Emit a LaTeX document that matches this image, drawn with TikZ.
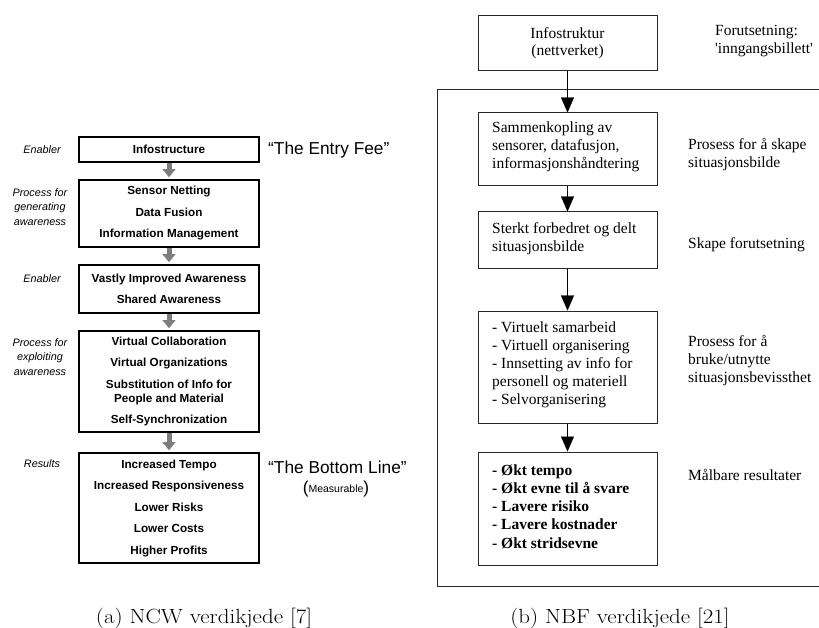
\documentclass[tikz,border=0pt]{standalone}
\usepackage{fontspec}
\usetikzlibrary{arrows.meta}
\newfontfamily\arialf{Liberation Sans}
\newfontfamily\timesf{Liberation Serif}
\newfontfamily\capf[FakeStretch=1.12]{Latin Modern Roman}
\definecolor{arrowgray}{RGB}{125,125,125}
\definecolor{framegray}{RGB}{40,40,40}
\begin{document}
\begin{tikzpicture}[x=1pt,y=-1pt,
  ncwbox/.style={draw=black, line width=1.8pt, minimum width=180pt, inner sep=0pt,
    align=center, font=\arialf\bfseries\fontsize{11.7}{14}\selectfont},
  ncwnote/.style={align=center, inner sep=0pt, font=\arialf\itshape\fontsize{10.8}{14.5}\selectfont},
  ncwquote/.style={anchor=west, inner sep=0pt, font=\arialf\fontsize{17.3}{20}\selectfont},
  grayarrow/.style={arrowgray, line width=5pt, shorten >=2pt,
    -{Triangle[width=13pt,length=8pt,line width=0.1pt]}},
  nbfbox/.style={draw=framegray, line width=1pt, minimum width=179pt, inner sep=0pt,
    align=center, font=\timesf\fontsize{15.5}{17}\selectfont},
  nbftext/.style={anchor=west, inner sep=0pt, align=left, font=\timesf\fontsize{15.5}{18}\selectfont},
  blackarrow/.style={black, line width=1pt, -{Triangle[width=13pt,length=15pt,line width=0.1pt]}},
  captext/.style={anchor=base, inner sep=0pt, font=\capf\fontsize{20.5}{24}\selectfont}
]
\useasboundingbox (0,0) rectangle (819,628);

% ---------- (a) NCW value chain ----------
\node[ncwbox, minimum height=25pt]  (ncw1) at (169,149.5) {Infostructure};
\node[ncwbox, minimum height=67pt]  (ncw2) at (169,213.5)
  {Sensor Netting\\[7.5pt]Data Fusion\\[7.5pt]Information Management};
\node[ncwbox, minimum height=48pt]  (ncw3) at (169,289)
  {Vastly Improved Awareness\\[7.5pt]Shared Awareness};
\node[ncwbox, minimum height=101pt] (ncw4) at (169,381.5)
  {Virtual Collaboration\\[7.5pt]Virtual Organizations\\[7.5pt]Substitution of Info for\\People and Material\\[7.5pt]Self-Synchronization};
\node[ncwbox, minimum height=110pt] (ncw5) at (169,508)
  {Increased Tempo\\[7.5pt]Increased Responsiveness\\[7.5pt]Lower Risks\\[7.5pt]Lower Costs\\[7.5pt]Higher Profits};

\draw[grayarrow] (ncw1.south) -- (ncw2.north);
\draw[grayarrow] (ncw2.south) -- (ncw3.north);
\draw[grayarrow] (ncw3.south) -- (ncw4.north);
\draw[grayarrow] (ncw4.south) -- (ncw5.north);

\node[ncwnote] (note1) at (42,150) {Enabler};
\node[ncwnote] (note2) at (40,207) {Process for\\generating\\awareness};
\node[ncwnote] (note3) at (42,279) {Enabler};
\node[ncwnote] (note4) at (40,357) {Process for\\exploiting\\awareness};
\node[ncwnote] (note5) at (42,464) {Results};

\node[ncwquote] (fee) at (268,150) {“The Entry Fee”};
\node[ncwquote] (bottom) at (268,467) {“The Bottom Line”};
\node[inner sep=0pt, font=\arialf\fontsize{17.3}{20}\selectfont] (meas) at (336,489)
  {(\raisebox{0.5pt}{\fontsize{10.5}{12}\selectfont Measurable})};

\node[captext] (capa) at (204,623) {(a) NCW verdikjede [7]};

% ---------- (b) NBF value chain ----------
\draw[framegray, line width=1pt] (822,90) -- (437,90) -- (437,586) -- (822,586);

\node[nbfbox, minimum height=55pt]  (nbf1) at (567.5,43.5) {Infostruktur\\(nettverket)};
\node[nbfbox, minimum height=73pt]  (nbf2) at (567.5,149.5) {};
\node[nbfbox, minimum height=57pt]  (nbf3) at (567.5,240.5) {};
\node[nbfbox, minimum height=112pt] (nbf4) at (567.5,367) {};
\node[nbfbox, minimum height=113pt] (nbf5) at (567.5,508.5) {};

\node[nbftext] (t2) at (492,146.5) {Sammenkopling av\\sensorer, datafusjon,\\informasjonshåndtering};
\node[nbftext] (t3) at (492,238.5) {Sterkt forbedret og delt\\situasjonsbilde};
\node[nbftext] (t4) at (492,364.5) {- Virtuelt samarbeid\\- Virtuell organisering\\- Innsetting av info for\\personell og materiell\\- Selvorganisering};
\node[nbftext, font=\timesf\bfseries\fontsize{15.5}{18.2}\selectfont] (t5) at (492,506.5)
  {- Økt tempo\\- Økt evne til å svare\\- Lavere risiko\\- Lavere kostnader\\- Økt stridsevne};

\draw[blackarrow] (nbf1.south) -- (nbf2.north);
\draw[blackarrow] (nbf2.south) -- (nbf3.north);
\draw[blackarrow] (nbf3.south) -- (nbf4.north);
\draw[blackarrow] (nbf4.south) -- (nbf5.north);

\node[nbftext] (s1) at (715,41.5) {Forutsetning:\\'inngangsbillett'};
\node[nbftext] (s2) at (688,155) {Prosess for å skape\\situasjonsbilde};
\node[nbftext] (s3) at (688,245) {Skape forutsetning};
\node[nbftext] (s4) at (688,361) {Prosess for å\\bruke/utnytte\\situasjonsbevissthet};
\node[nbftext] (s5) at (688,475) {Målbare resultater};

\node[captext] (capb) at (620,623) {(b) NBF verdikjede [21]};
\end{tikzpicture}
\end{document}
